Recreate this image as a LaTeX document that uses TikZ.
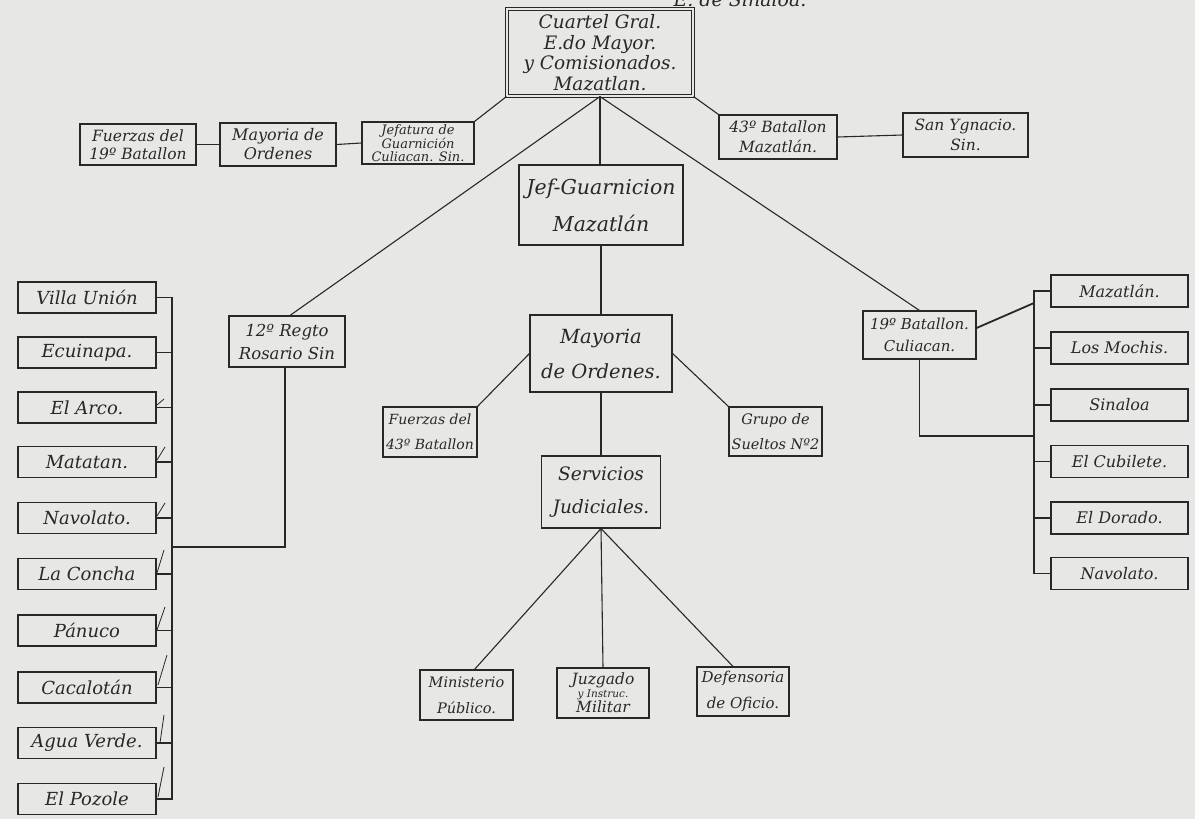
\documentclass[tikz,border=0pt]{standalone}
\usepackage{fontspec}
\setmainfont{DejaVu Serif}
\usetikzlibrary{calc}
\definecolor{paper}{RGB}{231,231,229}
\definecolor{ink}{RGB}{40,40,40}
\newcommand{\fsz}[2]{\fontsize{#1}{#2}\selectfont}
\tikzset{
  box/.style={draw=ink, line width=1.1pt, inner sep=1pt, align=center, text=ink, execute at begin node={\itshape}},
  topbox/.style={box, double=paper, double distance=1.4pt, line width=1.1pt},
  lbox/.style={box, minimum width=138pt, minimum height=31pt, font=\fsz{18}{19}},
  rbox/.style={box, minimum width=137pt, minimum height=32pt, font=\fsz{16}{17}},
  conn/.style={draw=ink, line width=1.1pt},
  tick/.style={draw=ink, line width=0.8pt}
}
\begin{document}
\begin{tikzpicture}[x=1pt,y=-1pt]
\useasboundingbox (0,0) rectangle (1195,819);
\fill[paper] (0,0) rectangle (1195,819);
\clip (0,0) rectangle (1195,819);

% title fragment (cut off at the top, as in the source)
\node[text=ink, font=\itshape\fsz{19}{22}, anchor=base] (title) at (740,6) {E. de Sinaloa.};

% top row
\node[topbox, minimum width=186pt, minimum height=87pt, font=\fsz{18.5}{20.5}] (top) at (600,52.5)
  {Cuartel Gral.\\E.do Mayor.\\y Comisionados.\\Mazatlan.};
\node[box, minimum width=116pt, minimum height=41pt, font=\fsz{15.5}{18}] (fz19) at (138,144.5) {Fuerzas del\\19º Batallon};
\node[box, minimum width=116pt, minimum height=43pt, font=\fsz{16}{19}] (mayL) at (278,144.5) {Mayoria de\\Ordenes};
\node[box, minimum width=112pt, minimum height=42pt, font=\fsz{13}{12.8}] (jefC) at (418,143) {Jefatura de\\Guarnición\\Culiacan. Sin.};
\node[box, minimum width=118pt, minimum height=44pt, font=\fsz{15.5}{20}] (b43) at (778,137) {43º Batallon\\Mazatlán.};
\node[box, minimum width=125pt, minimum height=44pt, font=\fsz{15.5}{20}] (sanY) at (965.5,135) {San Ygnacio.\\Sin.};

% central column
\node[box, minimum width=164pt, minimum height=80pt, font=\fsz{20.5}{37}] (jefM) at (601,205) {Jef-Guarnicion\\Mazatlán};
\node[box, minimum width=142pt, minimum height=77pt, font=\fsz{19.5}{35}] (mayO) at (601,353.5) {Mayoria\\de Ordenes.};
\node[box, minimum width=94pt, minimum height=50pt, font=\fsz{14}{25}] (fz43) at (430,432) {Fuerzas del\\43º Batallon};
\node[box, minimum width=93pt, minimum height=49pt, font=\fsz{14.5}{25}] (grupo) at (775.5,431.5) {Grupo de\\Sueltos Nº2};
\node[box, minimum width=119pt, minimum height=72pt, font=\fsz{18.5}{33}] (serv) at (601,492) {Servicios\\Judiciales.};
\node[box, minimum width=93pt, minimum height=50pt, font=\fsz{14.5}{26}] (mini) at (466.5,695) {Ministerio\\Público.};
\node[box, minimum width=92pt, minimum height=50pt, font=\fsz{15.5}{13}] (juz) at (603,693) {Juzgado\\{\fsz{10.5}{9}y Instruc.}\\Militar};
\node[box, minimum width=92pt, minimum height=49pt, font=\fsz{15}{26}] (defe) at (743,691.5) {Defensoria\\de Oficio.};

% side commands
\node[box, minimum width=116pt, minimum height=51pt, font=\fsz{16.5}{23}] (reg12) at (287,341.5) {12º Regto\\Rosario Sin};
\node[box, minimum width=113pt, minimum height=48pt, font=\fsz{15}{22}] (b19) at (919.5,335) {19º Batallon.\\Culiacan.};

% left column
\node[lbox] (l1) at (87,297.5) {Villa Unión};
\node[lbox] (l2) at (87,352.5) {Ecuinapa.};
\node[lbox] (l3) at (87,407.5) {El Arco.};
\node[lbox] (l4) at (87,462) {Matatan.};
\node[lbox] (l5) at (87,518) {Navolato.};
\node[lbox] (l6) at (87,574) {La Concha};
\node[lbox] (l7) at (87,630.5) {Pánuco};
\node[lbox] (l8) at (87,687.5) {Cacalotán};
\node[lbox] (l9) at (87,743) {Agua Verde.};
\node[lbox] (l10) at (87,799) {El Pozole};

% right column
\node[rbox] (r1) at (1119.5,291) {Mazatlán.};
\node[rbox] (r2) at (1119.5,348) {Los Mochis.};
\node[rbox] (r3) at (1119.5,405) {Sinaloa};
\node[rbox] (r4) at (1119.5,461.5) {El Cubilete.};
\node[rbox] (r5) at (1119.5,518) {El Dorado.};
\node[rbox] (r6) at (1119.5,573.5) {Navolato.};

\coordinate (lbus) at (172,547);
\coordinate (rbus) at (1034,436);
\coordinate (rjoin) at (1034,303);

% connectors, top
\draw[conn] (top.south west) -- (jefC.north east);
\draw[conn] (top.south east) -- (b43.north west);
\draw[conn] (fz19.east) -- (mayL.west);
\draw[conn] (mayL.east) -- (jefC.west);
\draw[conn] (b43.east) -- (sanY.west);
\draw[conn] (top.south) -- ([xshift=3pt]reg12.north);
\draw[conn] (top.south) -- (top.south |- jefM.north);
\draw[conn] (top.south) -- (b19.north);

% central
\draw[conn] (jefM.south) -- (mayO.north);
\draw[conn] (mayO.west) -- (fz43.north east);
\draw[conn] (mayO.east) -- (grupo.north west);
\draw[conn] (mayO.south) -- (serv.north);
\draw[conn] (serv.south) -- ([xshift=8pt]mini.north);
\draw[conn] (serv.south) -- (juz.north);
\draw[conn] (serv.south) -- ([xshift=-10pt]defe.north);

% left bus
\draw[conn] ([xshift=-2pt]reg12.south) |- (lbus);
\draw[conn] (l1.east) -| (lbus) |- (l10.east);
\foreach \n in {l2,l3,l4,l5,l6,l7,l8,l9} {
  \draw[conn] (\n.east) -- (\n.east -| lbus);
}
% pen ticks
\draw[tick] (157,405) -- (164,399);
\draw[tick] (157,460) -- (165,447);
\draw[tick] (157,516) -- (165,503);
\draw[tick] (157,573) -- (164,550);
\draw[tick] (157,630) -- (165,607);
\draw[tick] (158,685) -- (167,655);
\draw[tick] (160,743) -- (164,715);
\draw[tick] (158,797) -- (164,767);

% right bus
\draw[conn] (r1.west) -| (rbus) |- (r6.west);
\foreach \n in {r2,r3,r4,r5} {
  \draw[conn] (\n.west) -- (\n.west -| rbus);
}
\draw[conn, line width=1.8pt] ([yshift=7pt]b19.east) -- (rjoin);
\draw[conn] (b19.south) |- (rbus);
\end{tikzpicture}
\end{document}
